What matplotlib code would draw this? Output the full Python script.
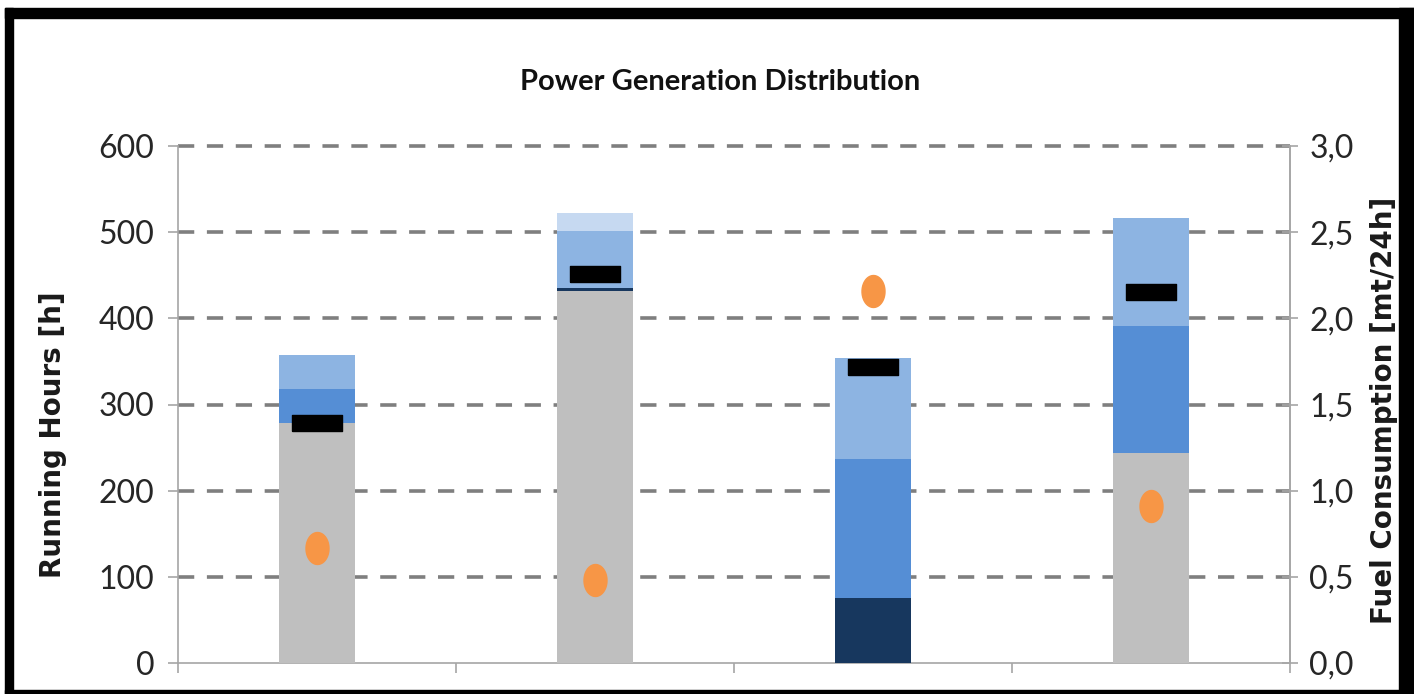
import numpy as np
import matplotlib
matplotlib.use("Agg")
from matplotlib import pyplot as plt
from matplotlib.patches import Rectangle
from matplotlib.ticker import FuncFormatter

# running hours per load band, stacked
gray_hours = [278, 432, 0, 244]
navy_hours = [0, 3, 75, 0]
mid_hours = [40, 0, 162, 147]
light_hours = [40, 66, 117, 126]
pale_hours = [0, 21, 0, 0]

# fuel consumption [mt/24h]
black_fuel = [1.39, 2.26, 1.72, 2.15]
orange_fuel = [0.67, 0.48, 2.16, 0.91]

colors = ["#bfbfbf", "#17375e", "#558ed5", "#8db4e2", "#c6d9f1"]
narrow = ["Lato", "DejaVu Sans"]


def main():
    W, H = 1414, 694
    fig = plt.figure(figsize=(W / 100, H / 100), dpi=100)
    ax = fig.add_axes([178 / W, 31 / H, (1290 - 178) / W, (663 - 146) / H])

    x = np.arange(4)
    bottom = np.zeros(4)
    for vals, c in zip([gray_hours, navy_hours, mid_hours, light_hours, pale_hours], colors):
        ax.bar(x, vals, width=0.27, bottom=bottom, color=c, zorder=3)
        bottom += np.array(vals)

    ax.set_xlim(-0.5, 3.5)
    ax.set_ylim(0, 600)
    ax.set_yticks(range(0, 601, 100))
    ax.set_xticks([-0.5, 0.5, 1.5, 2.5, 3.5])
    ax.set_xticklabels([])
    for y in range(100, 601, 100):
        ax.axhline(y, color="#7f7f7f", lw=2.6, ls=(0, (4.5, 3.5)), zorder=1, clip_on=False)

    ax.spines["top"].set_visible(False)
    for s in ["left", "bottom", "right"]:
        ax.spines[s].set_color("#a6a6a6")
        ax.spines[s].set_linewidth(1.2)
    ax.tick_params(axis="both", colors="#a6a6a6", length=7, width=1.2)
    ax.tick_params(axis="y", labelcolor="#262626", labelsize=23, pad=10)
    for lab in ax.get_yticklabels():
        lab.set_family(narrow)
    ax.set_ylabel("Running Hours [h]", fontsize=20, fontweight="bold",
                  family="DejaVu Sans", color="#1a1a1a")
    ax.yaxis.set_label_coords(-0.1, 0.441)

    ax2 = ax.twinx()
    ax2.set_ylim(0, 3)
    ax2.set_yticks(np.arange(0, 3.01, 0.5))
    ax2.yaxis.set_major_formatter(FuncFormatter(lambda v, p: f"{v:.1f}".replace(".", ",")))
    for s in ["top", "left", "bottom"]:
        ax2.spines[s].set_visible(False)
    ax2.spines["right"].set_color("#a6a6a6")
    ax2.spines["right"].set_linewidth(1.2)
    ax2.tick_params(axis="y", colors="#a6a6a6", length=12, width=1.2, direction="inout",
                    labelcolor="#262626", labelsize=23, pad=8)
    for lab in ax2.get_yticklabels():
        lab.set_family(narrow)
    ax2.set_ylabel("Fuel Consumption [mt/24h]", fontsize=20, fontweight="bold",
                   family="DejaVu Sans", color="#1a1a1a")
    ax2.yaxis.set_label_coords(1.072, 0.489)

    rect = [(-3, -1), (3, -1), (3, 1), (-3, 1), (-3, -1)]
    t = np.linspace(0, 2 * np.pi, 60)
    ellipse = list(zip(0.72 * np.cos(t), np.sin(t)))
    ax2.plot(x, black_fuel, ls="none", marker=rect, ms=36, color="black", zorder=5)
    ax2.plot(x, orange_fuel, ls="none", marker=ellipse, ms=23, color="#f79646", zorder=5)

    fig.text(720 / W, 1 - 82 / H, "Power Generation Distribution", ha="center", va="center",
             fontsize=21, fontweight="bold", family=narrow, color="#111111")

    # black frame around the picture
    def px_rect(x0, y0, x1, y1):
        fig.patches.append(Rectangle((x0 / W, 1 - y1 / H), (x1 - x0) / W, (y1 - y0) / H,
                                     transform=fig.transFigure, color="black", zorder=10))
    px_rect(5, 8, W, 18)
    px_rect(5, 8, 13, H)
    px_rect(1399, 8, W, H)
    px_rect(5, 690, W, H)

    fig.savefig("out.png", dpi=100)


if __name__ == "__main__":
    main()
